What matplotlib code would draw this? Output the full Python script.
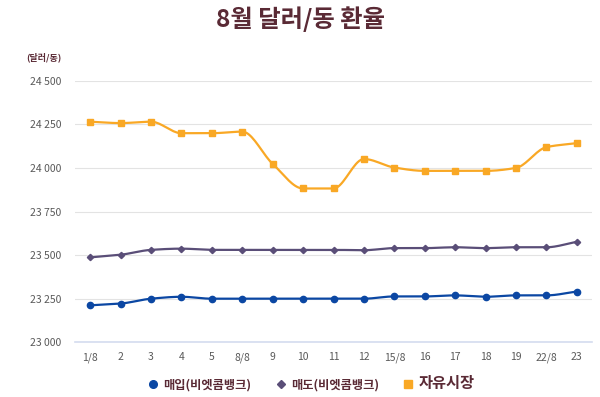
import numpy as np
import matplotlib
matplotlib.use('Agg')
import matplotlib.pyplot as plt
from matplotlib.ticker import FuncFormatter

plt.rcParams['font.family'] = ['Noto Sans CJK KR', 'DejaVu Sans']

# data
days = ['1/8', '2', '3', '4', '5', '8/8', '9', '10', '11', '12', '15/8',
        '16', '17', '18', '19', '22/8', '23']
buy_vcb = [23212, 23222, 23250, 23261, 23250, 23250, 23250, 23250, 23250, 23250,
           23263, 23263, 23269, 23261, 23269, 23269, 23291]
sell_vcb = [23487, 23502, 23530, 23537, 23530, 23530, 23530, 23530, 23530, 23528,
            23540, 23540, 23545, 23540, 23545, 23545, 23576]
free_market = [24265, 24257, 24265, 24199, 24199, 24208, 24023, 23882, 23882, 24051,
               24002, 23983, 23983, 23983, 24000, 24119, 24142]
series_names = ['매입(비엣콤뱅크)', '매도(비엣콤뱅크)', '자유시장']
yticks = [23000, 23250, 23500, 23750, 24000, 24250, 24500]

blue = '#0b47a3'
purple = '#5a4e78'
orange = '#f9a825'
maroon = '#5a2a35'
grey = '#595959'


# smoothed line through the points (monotone cubic, only for drawing the curve)
def smooth(x, y, n=20):
    x = np.asarray(x, float)
    y = np.asarray(y, float)
    d = np.diff(y) / np.diff(x)
    m = np.zeros_like(y)
    m[0], m[-1] = d[0], d[-1]
    for i in range(1, len(y) - 1):
        if d[i - 1] * d[i] > 0:
            m[i] = 2 / (1 / d[i - 1] + 1 / d[i])
    xs, ys = [], []
    for i in range(len(x) - 1):
        h = x[i + 1] - x[i]
        t = np.linspace(0, 1, n)
        h00 = 2 * t ** 3 - 3 * t ** 2 + 1
        h10 = t ** 3 - 2 * t ** 2 + t
        h01 = -2 * t ** 3 + 3 * t ** 2
        h11 = t ** 3 - t ** 2
        xs.append(x[i] + t * h)
        ys.append(h00 * y[i] + h10 * h * m[i] + h01 * y[i + 1] + h11 * h * m[i + 1])
    return np.concatenate(xs), np.concatenate(ys)


fig = plt.figure(figsize=(6, 3.97), dpi=100)
ax = fig.add_axes([0.125, 0.1378, 0.8617, 0.6589])

x = np.arange(len(days))
styles = [(buy_vcb, blue, 'o', 4.5, 1.6),
          (sell_vcb, purple, 'D', 3.2, 1.6),
          (free_market, orange, 's', 5.0, 1.6)]
handles = []
for (vals, col, mk, ms, lw), name in zip(styles, series_names):
    sx, sy = smooth(x, vals)
    ax.plot(sx, sy, color=col, lw=lw, zorder=3)
    ax.plot(x, vals, ls='none', marker=mk, ms=ms, color=col, zorder=4)
    h, = ax.plot([], [], ls='none', marker=mk, ms=ms + 1, color=col, label=name)
    handles.append(h)

ax.set_xlim(-0.5, len(days) - 0.5)
ax.set_ylim(23000, 24500)
ax.set_xticks(x)
ax.set_xticklabels(days)
ax.set_yticks(yticks)
ax.yaxis.set_major_formatter(FuncFormatter(lambda v, p: f'{int(v):,}'.replace(',', ' ')))
ax.tick_params(axis='both', length=0, labelsize=7.5, colors=grey)
ax.tick_params(axis='y', pad=10)
ax.tick_params(axis='x', pad=7)
ax.grid(axis='y', color='#e3e3e3', lw=0.8)
for s in ['left', 'right', 'top']:
    ax.spines[s].set_visible(False)
ax.spines['bottom'].set_color('#d4dcef')
ax.spines['bottom'].set_linewidth(1.2)

fig.text(0.5, 0.953, '8월 달러/동 환율', ha='center', va='center',
         fontsize=17.5, fontweight='bold', color=maroon)
fig.text(0.073, 0.855, '(달러/동)', ha='center', va='center',
         fontsize=6.5, fontweight='bold', color=maroon)

leg = fig.legend(handles=handles, loc='center', bbox_to_anchor=(0.518, 0.035), ncol=3,
                 frameon=False, handletextpad=0.35, columnspacing=1.9,
                 handlelength=1.0, prop={'size': 8.8, 'weight': 'bold'})
for i, t in enumerate(leg.get_texts()):
    t.set_color(maroon)
    if i == 2:
        t.set_fontsize(11)

fig.savefig('out.png', dpi=100)
